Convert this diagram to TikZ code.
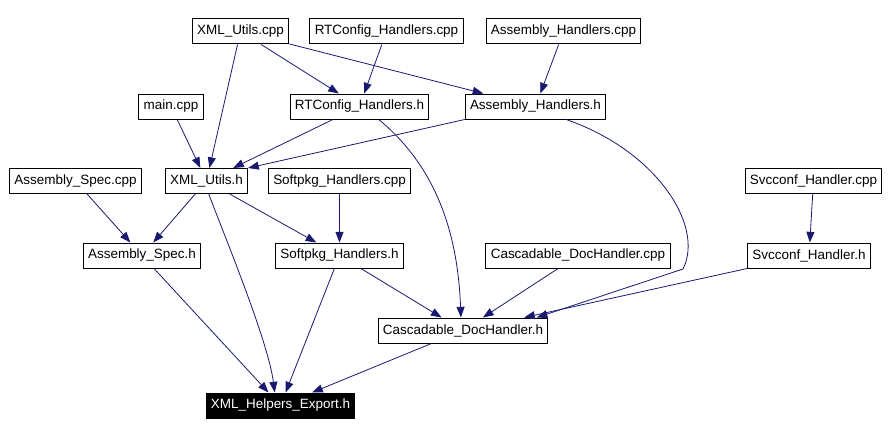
\documentclass[tikz,border=0pt]{standalone}
\usepackage{fontspec}
\setmainfont{Liberation Sans}
\usetikzlibrary{arrows.meta}
\definecolor{edgeblue}{HTML}{191970}

\begin{document}
\begin{tikzpicture}[
    x=0.75pt, y=-0.75pt,
    box/.style={rectangle, draw, line width=0.75pt, minimum height=18.75pt, inner xsep=3.6pt, text centered, font=\fontsize{10.1}{11}\selectfont},
    arrow/.style={-{Triangle[length=8pt, width=6pt]}, line width=0.6pt, draw=edgeblue}
]
    \useasboundingbox (0,0) rectangle (888,435);

    \node[box] (xutilscpp) at (240.5,31.5) {XML\_Utils.cpp};
    \node[box] (rtcfgcpp) at (386.5,31.5) {RTConfig\_Handlers.cpp};
    \node[box] (asmcpp) at (563.5,31.5) {Assembly\_Handlers.cpp};
    \node[box] (maincpp) at (171,106.5) {main.cpp};
    \node[box] (rtcfgh) at (359.5,106.5) {RTConfig\_Handlers.h};
    \node[box] (asmh) at (535.5,106.5) {Assembly\_Handlers.h};
    \node[box] (specpp) at (75.5,181) {Assembly\_Spec.cpp};
    \node[box] (xutilsh) at (206.5,181) {XML\_Utils.h};
    \node[box] (softcpp) at (339.5,181) {Softpkg\_Handlers.cpp};
    \node[box] (svccpp) at (813.5,181) {Svcconf\_Handler.cpp};
    \node[box] (spech) at (142,255.5) {Assembly\_Spec.h};
    \node[box] (softh) at (339.5,255.5) {Softpkg\_Handlers.h};
    \node[box] (cascpp) at (578,255.5) {Cascadable\_DocHandler.cpp};
    \node[box] (svch) at (809,255.5) {Svcconf\_Handler.h};
    \node[box] (casch) at (463,330.5) {Cascadable\_DocHandler.h};
    \node[box, fill=black, text=white] (export) at (280.5,405.5) {XML\_Helpers\_Export.h};

    \draw[arrow] (xutilscpp) -- (xutilsh);
    \draw[arrow] (xutilscpp) -- (rtcfgh);
    \draw[arrow] (xutilscpp) -- (asmh.166);
    \draw[arrow] (rtcfgcpp) -- (rtcfgh);
    \draw[arrow] (asmcpp) -- (asmh);
    \draw[arrow] (maincpp) -- (xutilsh);
    \draw[arrow] (rtcfgh) -- (xutilsh);
    \draw[arrow] (asmh.south west) -- (xutilsh.north east);
    \draw[arrow] (rtcfgh.-34) .. controls (440,170) and (458,240) .. (casch.99);
    \draw[arrow] (asmh.-23) .. controls (655,150) and (705,225) .. (683,269) -- (casch.10);
    \draw[arrow] (specpp) -- (spech);
    \draw[arrow] (xutilsh) -- (spech);
    \draw[arrow] (xutilsh.-80) .. controls (222,230) and (268,340) .. (export.114);
    \draw[arrow] (xutilsh) -- (softh);
    \draw[arrow] (softcpp) -- (softh);
    \draw[arrow] (svccpp) -- (svch);
    \draw[arrow] (spech) -- (export);
    \draw[arrow] (softh) -- (export);
    \draw[arrow] (softh) -- (casch);
    \draw[arrow] (cascpp) -- (casch);
    \draw[arrow] (svch.south west) -- (casch.12);
    \draw[arrow] (casch) -- (export);
\end{tikzpicture}
\end{document}
